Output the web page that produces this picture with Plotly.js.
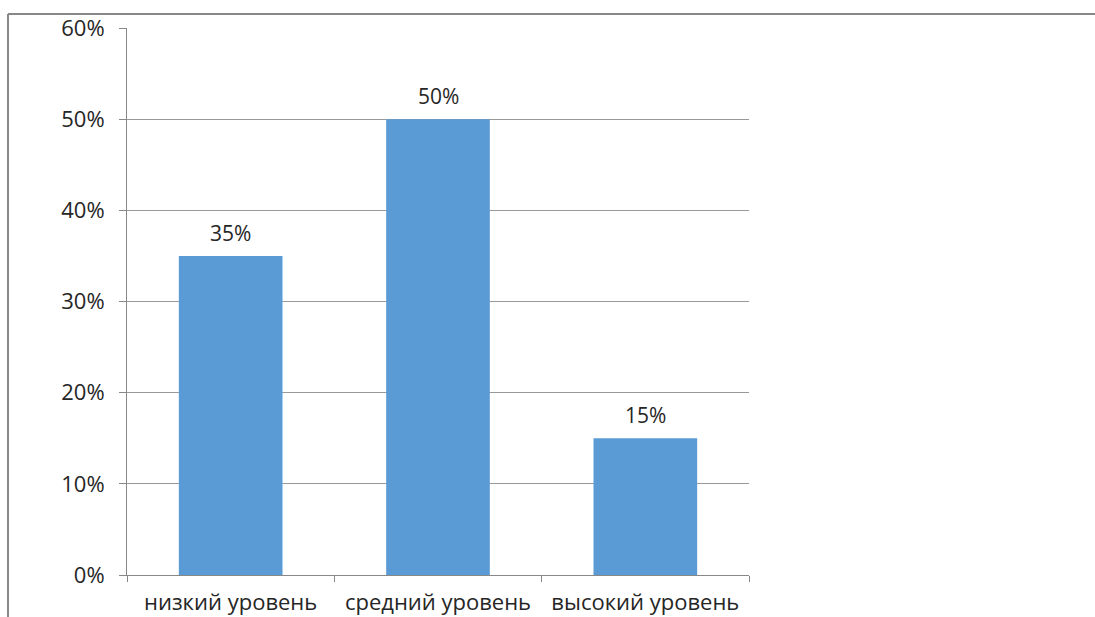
<!DOCTYPE html>
<html><head><meta charset="utf-8">
<script src="https://cdn.plot.ly/plotly-3.0.1.min.js"></script>
<style>html,body{margin:0;padding:0;background:#fff;}#chart{width:1095px;height:617px;}</style>
</head><body><div id="chart"></div>
<script>
var categories = ["низкий уровень", "средний уровень", "высокий уровень"];
var values = [0.35, 0.50, 0.15];
var valueLabels = ["35%", "50%", "15%"];

var font = "Open Sans, Liberation Sans, sans-serif";
var trace = {
  type: "bar", x: categories, y: values,
  marker: {color: "#5b9bd5"}, hoverinfo: "none"
};
var annotations = categories.map(function(c, i){
  return {x: c, y: values[i], xref: "x", yref: "y", text: valueLabels[i], showarrow: false,
    yanchor: "bottom", yshift: 7, font: {family: font, size: 21, color: "#262626"}};
});
var L = 127, R = 749, T = 28, B = 575, W = 1095, H = 617;
var pw = R - L, ph = B - T;
function px(x){ return (x - L) / pw; }
function py(y){ return (B - y) / ph; }
var layout = {
  width: W, height: H,
  margin: {l: L, r: W - R, t: T, b: H - B, pad: 0},
  paper_bgcolor: "#fff", plot_bgcolor: "#fff",
  showlegend: false, bargap: 0.5,
  font: {family: font, size: 22, color: "#262626"},
  xaxis: {type: "category", showline: true, linecolor: "#888", linewidth: 1,
    ticks: "outside", tickson: "boundaries", ticklen: 6, tickcolor: "#888",
    showgrid: false, tickfont: {family: font, size: 22, color: "#262626"}, ticklabelstandoff: 8},
  yaxis: {range: [0, 0.6], dtick: 0.1, tickformat: ".0%", showline: true, linecolor: "#888", linewidth: 1,
    ticks: "outside", ticklen: 7, tickcolor: "#888", showgrid: true, gridcolor: "#999", gridwidth: 1,
    zeroline: false, tickfont: {family: font, size: 22, color: "#262626"}, ticklabelstandoff: 10},
  annotations: annotations,
  shapes: [
    {type: "line", xref: "paper", yref: "paper", x0: px(8), x1: px(1095), y0: py(14), y1: py(14), line: {color: "#888", width: 2}},
    {type: "line", xref: "paper", yref: "paper", x0: px(8), x1: px(8), y0: py(14), y1: py(617), line: {color: "#888", width: 2}}
  ]
};
Plotly.newPlot("chart", [trace], layout, {displayModeBar: false, staticPlot: true});
</script></body></html>
